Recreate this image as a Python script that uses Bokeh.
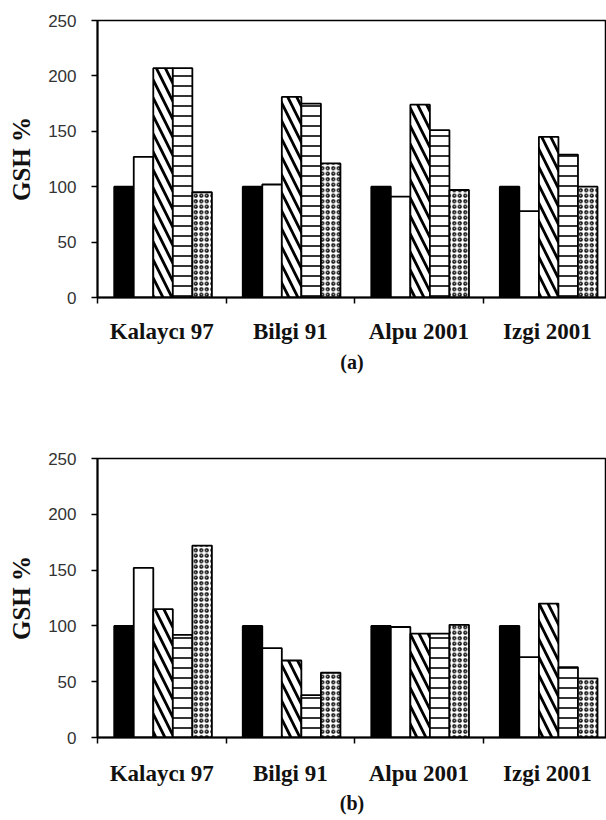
import numpy as np
from bokeh.plotting import figure
from bokeh.models import Range1d, FixedTicker
from bokeh.layouts import column
from bokeh.embed import file_html
from bokeh.resources import INLINE

categories = ["Kalaycı 97", "Bilgi 91", "Alpu 2001", "Izgi 2001"]

# panel (a)
a_s1 = [100, 100, 100, 100]
a_s2 = [127, 102, 91, 78]
a_s3 = [207, 181, 174, 145]
a_s4 = [207, 175, 151, 129]
a_s5 = [95, 121, 97, 100]

# panel (b)
b_s1 = [100, 100, 100, 100]
b_s2 = [152, 80, 99, 72]
b_s3 = [115, 69, 93, 120]
b_s4 = [92, 38, 93, 63]
b_s5 = [172, 58, 101, 53]

y_ticks = [0, 50, 100, 150, 200, 250]

SERIF = "Liberation Serif"
SANS = "Liberation Sans"

styles = [
    dict(fill_color="black"),
    dict(fill_color="white"),
    dict(fill_color="white", hatch_pattern="\\", hatch_scale=18, hatch_weight=2.8, hatch_color="black"),
    dict(fill_color="white", hatch_pattern="-", hatch_scale=10, hatch_weight=1.6, hatch_color="black"),
    dict(fill_color="white", hatch_pattern="o", hatch_scale=5.5, hatch_weight=1.4, hatch_color="black"),
]

BW = 0.152
GROUP_SHIFT = 0.01


def make(series, letter, height, top_b, bottom_b, label_standoff, ax_standoff):
    p = figure(width=606, height=height, output_backend="svg", toolbar_location=None,
               x_range=Range1d(-0.5, 3.46), y_range=Range1d(0, 250),
               min_border_left=97, min_border_right=0,
               min_border_top=top_b, min_border_bottom=bottom_b)
    p.grid.visible = False
    p.background_fill_color = "white"
    p.border_fill_color = "white"
    p.outline_line_color = "black"
    p.outline_line_width = 1.5

    idx = np.arange(len(categories))
    for k, (vals, st) in enumerate(zip(series, styles)):
        p.vbar(x=idx + GROUP_SHIFT + (k - 2) * BW, top=vals, width=BW,
               line_color="black", line_width=1.8, **st)

    xa = p.xaxis[0]
    xa.ticker = FixedTicker(ticks=list(range(len(categories))),
                            minor_ticks=[i - 0.5 for i in range(len(categories))])
    xa.major_label_overrides = {i: c for i, c in enumerate(categories)}
    xa.major_tick_out = 0
    xa.major_tick_in = 0
    xa.minor_tick_out = 6
    xa.minor_tick_in = 0
    xa.minor_tick_line_width = 1.5
    xa.minor_tick_line_color = "black"
    xa.axis_line_width = 2
    xa.major_label_text_font = SERIF
    xa.major_label_text_font_style = "bold"
    xa.major_label_text_font_size = "23px"
    xa.major_label_text_color = "#111111"
    xa.major_label_standoff = label_standoff
    xa.axis_label = letter
    xa.axis_label_text_font = SERIF
    xa.axis_label_text_font_style = "bold"
    xa.axis_label_text_font_size = "20px"
    xa.axis_label_text_color = "#111111"
    xa.axis_label_standoff = ax_standoff

    ya = p.yaxis[0]
    ya.ticker = FixedTicker(ticks=y_ticks, minor_ticks=[])
    ya.major_tick_out = 6
    ya.major_tick_in = 0
    ya.major_tick_line_width = 1.5
    ya.axis_line_width = 2
    ya.major_label_text_font = SANS
    ya.major_label_text_font_size = "17px"
    ya.major_label_text_color = "#333333"
    ya.major_label_standoff = 15
    ya.axis_label = "GSH %"
    ya.axis_label_text_font = SERIF
    ya.axis_label_text_font_style = "bold"
    ya.axis_label_text_font_size = "25px"
    ya.axis_label_text_color = "#111111"
    ya.axis_label_standoff = 10
    return p


p1 = make([a_s1, a_s2, a_s3, a_s4, a_s5], "(a)", 382, 20, 85, 15, 4)
p2 = make([b_s1, b_s2, b_s3, b_s4, b_s5], "(b)", 438, 76, 83, 17, 3)

layout = column(p1, p2)
open("out.html", "w").write(file_html(layout, INLINE))
